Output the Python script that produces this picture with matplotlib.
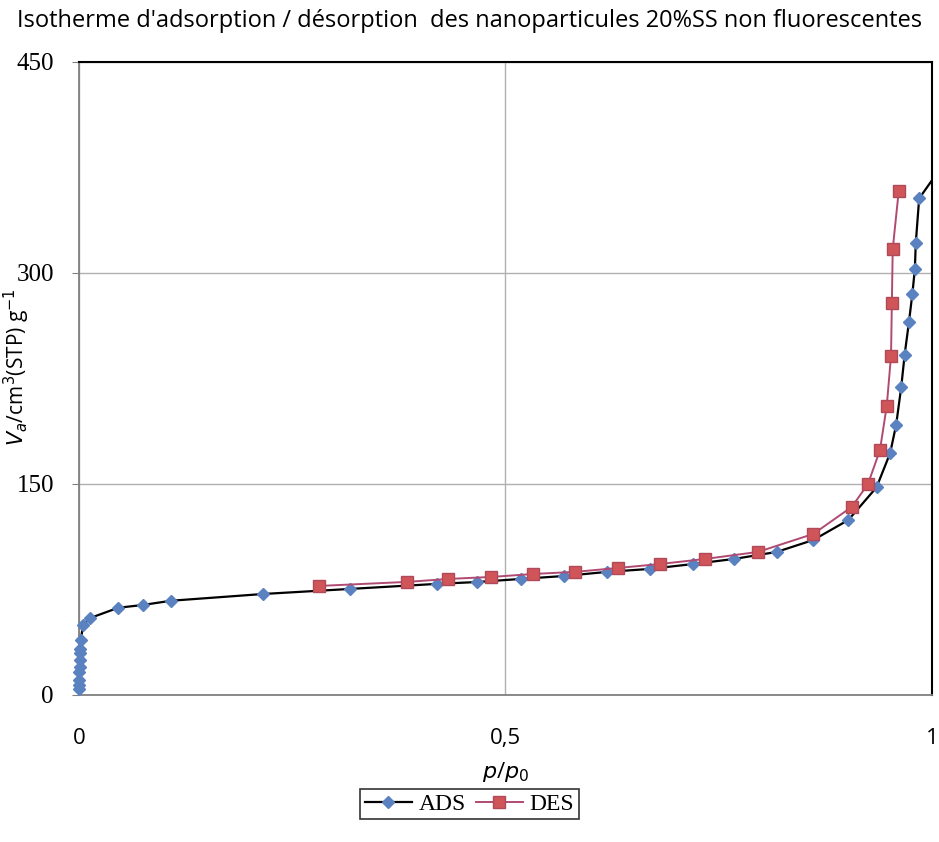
import matplotlib
matplotlib.use("Agg")
import matplotlib.pyplot as plt
from matplotlib.ticker import FuncFormatter

# --- Data ------------------------------------------------------------------

ads_x = [0.0003, 0.0004, 0.0005, 0.0006, 0.0007, 0.0008, 0.0009, 0.001, 0.002,
         0.005, 0.013, 0.046, 0.075, 0.108, 0.216, 0.318, 0.420, 0.467, 0.518,
         0.569, 0.619, 0.669, 0.720, 0.768, 0.818, 0.861, 0.902, 0.935, 0.951,
         0.958, 0.964, 0.968, 0.973, 0.977, 0.980, 0.981, 0.985, 1.02]
ads_y = [4, 7, 11, 16, 20, 25, 30, 33, 39,
         49.8, 54.7, 62, 64, 67, 71.8, 75.4, 79, 80.3, 82.5,
         84.6, 87.5, 89.6, 93.1, 96.7, 101.7, 110.2, 124.4, 147.6, 172,
         192, 219, 242, 265, 285, 303, 321, 353, 383]

des_x = [0.281, 0.385, 0.433, 0.483, 0.532, 0.581, 0.632, 0.681, 0.734,
         0.796, 0.861, 0.906, 0.925, 0.939, 0.947, 0.952, 0.953, 0.954, 0.961]
des_y = [77.5, 80.4, 82.5, 83.9, 86, 87.5, 90.3, 93.1, 96.7,
         101.7, 114.5, 133.7, 150, 174, 205.5, 241, 279, 317, 358]

x_ticks = [0, 0.5, 1]
y_ticks = [0, 150, 300, 450]

SERIF = ["Liberation Serif", "DejaVu Serif"]
SANS = ["Open Sans", "DejaVu Sans"]
BLUE = "#5b82c0"

fig = plt.figure(figsize=(9.39, 8.42), dpi=100)
ax = fig.add_axes([0.0841, 0.1746, 0.9084, 0.7518])

# ADS: line clipped at the frame, markers drawn over it (last point is off-axis)
ax.plot(ads_x, ads_y, "-", color="black", linewidth=1.6, zorder=3)
ax.plot(ads_x[:-1], ads_y[:-1], linestyle="none", marker="D", markersize=6.5,
        markerfacecolor=BLUE, markeredgecolor=BLUE, clip_on=False, zorder=3.5)
ax.plot(des_x, des_y, "-", color="#b04a72", linewidth=1.4, marker="s",
        markersize=8, markerfacecolor="#d05558", markeredgecolor="#b04a5a",
        zorder=4)

# legend proxies
ax.plot([], [], "-", color="black", linewidth=1.6, marker="D", markersize=6.5,
        markerfacecolor=BLUE, markeredgecolor=BLUE, label="ADS")
ax.plot([], [], "-", color="#b04a72", linewidth=1.4, marker="s", markersize=8,
        markerfacecolor="#d05558", markeredgecolor="#b04a5a", label="DES")

ax.set_xlim(0, 1)
ax.set_ylim(0, 450)
ax.set_xticks(x_ticks)
ax.set_yticks(y_ticks)
ax.xaxis.set_major_formatter(FuncFormatter(lambda v, _: f"{v:g}".replace(".", ",")))
ax.grid(True, color="#b0b0b0", linewidth=1)
ax.set_axisbelow(True)
ax.tick_params(axis="y", direction="out", length=5, color="#808080",
               labelsize=18, pad=13)
ax.tick_params(axis="x", length=0, labelsize=16, pad=24)
for lbl in ax.get_yticklabels():
    lbl.set_family(SERIF)
for lbl in ax.get_xticklabels():
    lbl.set_family(SANS)

for side in ["left", "bottom"]:
    ax.spines[side].set_color("#808080")
    ax.spines[side].set_linewidth(1.3)
for side in ["right", "top"]:
    ax.spines[side].set_color("black")
    ax.spines[side].set_linewidth(1.5)

ax.set_xlabel("$p$/$p_0$", fontsize=16, labelpad=8, family=SANS)
ax.set_ylabel("$V_a$/cm$^3$(STP) g$^{-1}$", fontsize=15, family=SANS)
ax.yaxis.set_label_coords(-0.055, 0.518)

fig.text(0.5, 0.975, "Isotherme d'adsorption / désorption  des nanoparticules 20%SS non fluorescentes",
         ha="center", va="center", fontsize=17, family=SANS)

leg = fig.legend(loc="center", bbox_to_anchor=(0.5, 1 - 804 / 842), ncol=2,
                 frameon=True, fancybox=False, edgecolor="black",
                 prop={"family": SERIF, "size": 17}, handlelength=2.0,
                 handletextpad=0.3, columnspacing=0.4, borderpad=0.2)
leg.get_frame().set_linewidth(1.2)

fig.savefig("out.png", dpi=100)
